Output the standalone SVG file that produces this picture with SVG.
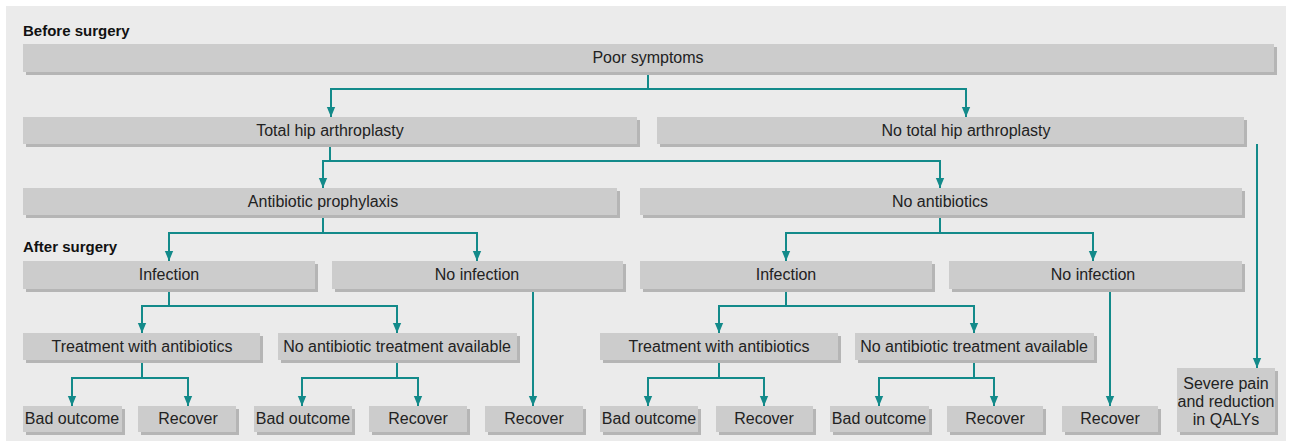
<svg xmlns="http://www.w3.org/2000/svg" width="1290" height="447" viewBox="0 0 1290 447">
<defs>
<style>
.box{fill:#cccccc}
.sh{fill:#b5b5b5}
.t{font-family:"Liberation Sans",Arial,sans-serif;font-size:16px;fill:#222;text-anchor:middle}
.h{font-family:"Liberation Sans",Arial,sans-serif;font-size:15px;font-weight:bold;fill:#111}
.c{fill:none;stroke:#138a8a;stroke-width:2}
</style>
<marker id="ar" markerUnits="userSpaceOnUse" markerWidth="10" markerHeight="12" refX="5" refY="12" orient="auto-start-reverse" viewBox="0 0 10 12">
<path d="M0,0 L10,0 L5,12 Z" fill="#138a8a" transform="rotate(-90 5 6)"/>
</marker>
<marker id="a" markerUnits="userSpaceOnUse" markerWidth="10" markerHeight="12" refX="12" refY="5" orient="auto" viewBox="0 0 12 10">
<path d="M0,0 L12,5 L0,10 Z" fill="#138a8a"/>
</marker>
</defs>
<rect x="0" y="0" width="1290" height="447" fill="#ffffff"/>
<rect x="6" y="6" width="1280" height="435" fill="#ebebeb"/>
<text class="h" x="23" y="36">Before surgery</text>
<text class="h" x="23" y="252">After surgery</text>

<g id="connectors">
<path class="c" d="M648 72 V89 H331 V117" marker-end="url(#a)"/>
<path class="c" d="M648 89 H966 V117" marker-end="url(#a)"/>
<path class="c" d="M330 144 V161 H323 V188" marker-end="url(#a)"/>
<path class="c" d="M330 161 H940 V188" marker-end="url(#a)"/>
<path class="c" d="M323 215 V233 H169 V261" marker-end="url(#a)"/>
<path class="c" d="M323 233 H477 V261" marker-end="url(#a)"/>
<path class="c" d="M940 215 V233 H786 V261" marker-end="url(#a)"/>
<path class="c" d="M940 233 H1093 V261" marker-end="url(#a)"/>
<path class="c" d="M169 289 V306 H142 V333" marker-end="url(#a)"/>
<path class="c" d="M169 306 H397 V333" marker-end="url(#a)"/>
<path class="c" d="M786 289 V306 H719 V333" marker-end="url(#a)"/>
<path class="c" d="M786 306 H974 V333" marker-end="url(#a)"/>
<path class="c" d="M142 360 V378 H72 V406" marker-end="url(#a)"/>
<path class="c" d="M142 378 H188 V406" marker-end="url(#a)"/>
<path class="c" d="M397 360 V378 H302 V406" marker-end="url(#a)"/>
<path class="c" d="M397 378 H418 V406" marker-end="url(#a)"/>
<path class="c" d="M719 360 V378 H648 V406" marker-end="url(#a)"/>
<path class="c" d="M719 378 H764 V406" marker-end="url(#a)"/>
<path class="c" d="M974 360 V378 H879 V406" marker-end="url(#a)"/>
<path class="c" d="M974 378 H994 V406" marker-end="url(#a)"/>
<path class="c" d="M533 289 V406" marker-end="url(#a)"/>
<path class="c" d="M1110 289 V406" marker-end="url(#a)"/>
<path class="c" d="M1257 144 V368" marker-end="url(#a)"/>
</g>

<g id="poor"><rect class="sh" x="26" y="47" width="1251" height="28"/><rect class="box" x="23" y="44" width="1251" height="28"/><text class="t" x="648" y="63">Poor symptoms</text></g>
<g id="thr"><rect class="sh" x="26" y="120" width="614" height="27"/><rect class="box" x="23" y="117" width="614" height="27"/><text class="t" x="330" y="136">Total hip arthroplasty</text></g>
<g id="nothr"><rect class="sh" x="660" y="120" width="587" height="27"/><rect class="box" x="657" y="117" width="587" height="27"/><text class="t" x="966" y="136">No total hip arthroplasty</text></g>
<g id="proph"><rect class="sh" x="26" y="191" width="594" height="27"/><rect class="box" x="23" y="188" width="594" height="27"/><text class="t" x="323" y="207">Antibiotic prophylaxis</text></g>
<g id="noab"><rect class="sh" x="643" y="191" width="602" height="27"/><rect class="box" x="640" y="188" width="602" height="27"/><text class="t" x="940" y="207">No antibiotics</text></g>
<g id="infL"><rect class="sh" x="26" y="264" width="292" height="28"/><rect class="box" x="23" y="261" width="292" height="28"/><text class="t" x="169" y="280">Infection</text></g>
<g id="noinfL"><rect class="sh" x="335" y="264" width="291" height="28"/><rect class="box" x="332" y="261" width="291" height="28"/><text class="t" x="477" y="280">No infection</text></g>
<g id="infR"><rect class="sh" x="643" y="264" width="292" height="28"/><rect class="box" x="640" y="261" width="292" height="28"/><text class="t" x="786" y="280">Infection</text></g>
<g id="noinfR"><rect class="sh" x="952" y="264" width="293" height="28"/><rect class="box" x="949" y="261" width="293" height="28"/><text class="t" x="1093" y="280">No infection</text></g>
<g id="trtL"><rect class="sh" x="26" y="336" width="237" height="27"/><rect class="box" x="23" y="333" width="237" height="27"/><text class="t" x="142" y="352">Treatment with antibiotics</text></g>
<g id="notrtL"><rect class="sh" x="281" y="336" width="239" height="27"/><rect class="box" x="278" y="333" width="239" height="27"/><text class="t" x="397" y="352">No antibiotic treatment available</text></g>
<g id="trtR"><rect class="sh" x="603" y="336" width="238" height="27"/><rect class="box" x="600" y="333" width="238" height="27"/><text class="t" x="719" y="352">Treatment with antibiotics</text></g>
<g id="notrtR"><rect class="sh" x="858" y="336" width="239" height="27"/><rect class="box" x="855" y="333" width="239" height="27"/><text class="t" x="974" y="352">No antibiotic treatment available</text></g>
<g id="bad1"><rect class="sh" x="26" y="409" width="99" height="26"/><rect class="box" x="23" y="406" width="99" height="26"/><text class="t" x="72" y="424">Bad outcome</text></g>
<g id="rec1"><rect class="sh" x="141" y="409" width="98" height="26"/><rect class="box" x="138" y="406" width="98" height="26"/><text class="t" x="188" y="424">Recover</text></g>
<g id="bad2"><rect class="sh" x="257" y="409" width="98" height="26"/><rect class="box" x="254" y="406" width="98" height="26"/><text class="t" x="303" y="424">Bad outcome</text></g>
<g id="rec2"><rect class="sh" x="372" y="409" width="98" height="26"/><rect class="box" x="369" y="406" width="98" height="26"/><text class="t" x="418" y="424">Recover</text></g>
<g id="rec3"><rect class="sh" x="488" y="409" width="98" height="26"/><rect class="box" x="485" y="406" width="98" height="26"/><text class="t" x="534" y="424">Recover</text></g>
<g id="bad3"><rect class="sh" x="603" y="409" width="98" height="26"/><rect class="box" x="600" y="406" width="98" height="26"/><text class="t" x="649" y="424">Bad outcome</text></g>
<g id="rec4"><rect class="sh" x="719" y="409" width="97" height="26"/><rect class="box" x="716" y="406" width="97" height="26"/><text class="t" x="764" y="424">Recover</text></g>
<g id="bad4"><rect class="sh" x="833" y="409" width="99" height="26"/><rect class="box" x="830" y="406" width="99" height="26"/><text class="t" x="879" y="424">Bad outcome</text></g>
<g id="rec5"><rect class="sh" x="950" y="409" width="96" height="26"/><rect class="box" x="947" y="406" width="96" height="26"/><text class="t" x="995" y="424">Recover</text></g>
<g id="rec6"><rect class="sh" x="1065" y="409" width="96" height="26"/><rect class="box" x="1062" y="406" width="96" height="26"/><text class="t" x="1110" y="424">Recover</text></g>
<g id="severe"><rect class="sh" x="1180" y="371" width="98" height="64"/><rect class="box" x="1177" y="368" width="98" height="64"/><text class="t" x="1226" y="389">Severe pain</text><text class="t" x="1226" y="407">and reduction</text><text class="t" x="1226" y="425">in QALYs</text></g>
</svg>
